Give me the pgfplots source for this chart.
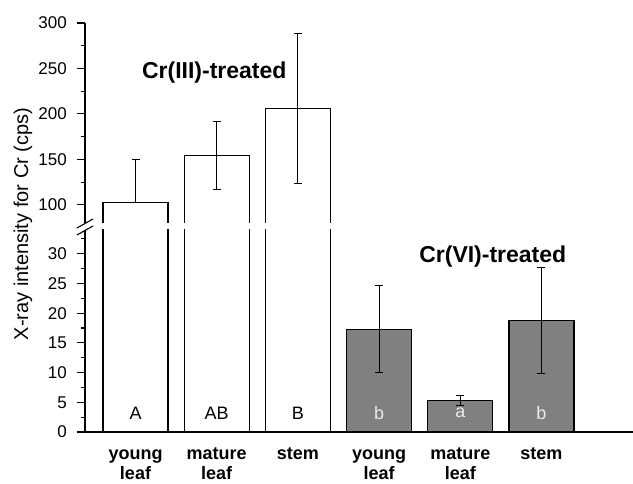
\documentclass[border=0pt]{standalone}
\usepackage{pgfplots}
\pgfplotsset{compat=1.18}
\usepackage{fontspec}
\setmainfont{Liberation Sans}
\definecolor{barg}{RGB}{128,128,128}
\definecolor{lettg}{RGB}{235,235,235}
\begin{document}
\begin{tikzpicture}[x=1pt,y=1pt]
\useasboundingbox (-85,-52) rectangle (548,432);
\pgfplotsset{
 common/.style={
  scale only axis, width=548pt, xmin=0.378, xmax=7.127,
  axis line style={line width=1.1pt},
  tick align=outside, major tick length=8pt, minor tick length=4pt,
  every tick/.style={black, line width=1.1pt},
  /pgf/number format/assume math mode=true,
  yticklabel style={font=\fontsize{17}{20}\selectfont, inner sep=3pt, xshift=-7pt},
  ybar, bar width=65pt,
  error bars/error bar style={line width=0.9pt, black},
  error bars/error mark options={rotate=90, mark size=4pt, line width=0.9pt, black},
 },
 barstyle/.style={bar shift=0pt, draw=black, line width=1.1pt},
}
% lower axis
\begin{axis}[common, at={(0pt,0pt)}, anchor=south west, height=202pt,
 ymin=0, ymax=34,
 axis x line*=bottom, axis y line*=left,
 ytick={0,5,...,30}, minor ytick={2.5,7.5,...,32.5},
 xtick={1,2,3,4,5,6},
 xticklabels={\strut young\\leaf, \strut mature\\leaf, \strut stem, \strut young\\leaf, \strut mature\\leaf, \strut stem},
 xticklabel style={align=center, font=\fontsize{18}{20}\selectfont\bfseries, inner sep=1pt, yshift=-4.5pt},
 x tick style={draw=none},
]
\addplot[barstyle, fill=white] coordinates {(1,40) (2,40) (3,40)};
\addplot[barstyle, fill=barg, error bars/.cd, y dir=both, y explicit]
 coordinates {(4,17.3) += (0,7.4) -= (0,7.2)
              (5,5.3) += (0,0.9) -= (0,0.8)
              (6,18.7) += (0,9.0) -= (0,8.9)};
\node[font=\fontsize{18}{22}\selectfont] at (axis cs:1,3.2) {A};
\node[font=\fontsize{18}{22}\selectfont] at (axis cs:2,3.2) {AB};
\node[font=\fontsize{18}{22}\selectfont] at (axis cs:3,3.2) {B};
\node[font=\fontsize{18}{22}\selectfont, text=lettg] at (axis cs:4,3.2) {b};
\node[font=\fontsize{18}{22}\selectfont, text=lettg] at (axis cs:5,3.2) {a};
\node[font=\fontsize{18}{22}\selectfont, text=lettg] at (axis cs:6,3.2) {b};
\node[font=\fontsize{23}{28}\selectfont\bfseries] at (axis cs:5.40,29.5) {Cr(VI)-treated};
\end{axis}
% upper axis (clipped at the break)
\begin{scope}
\clip (-85,209) rectangle (560,440);
\begin{axis}[common, at={(0pt,199.9pt)}, anchor=south west, height=209.1pt,
 ymin=70, ymax=300,
 axis x line=none, axis y line*=left,
 ytick={100,150,...,300}, minor ytick={125,175,225,275},
]
\addplot[barstyle, fill=white, error bars/.cd, y dir=both, y explicit]
 coordinates {(1,103) += (0,47) -= (0,0)
              (2,154) += (0,38) -= (0,37)
              (3,205.6) += (0,82.4) -= (0,82.2)};
\node[font=\fontsize{23}{28}\selectfont\bfseries] at (axis cs:1.97,246) {Cr(III)-treated};
\end{axis}
\end{scope}
% axis break marks
\draw[line width=1.1pt] (-8,197)--(8,206);
\draw[line width=1.1pt] (-8,204)--(8,213);
\node[rotate=90, font=\fontsize{20}{24}\selectfont] at (-62,208) {X-ray intensity for Cr (cps)};
\end{tikzpicture}
\end{document}
